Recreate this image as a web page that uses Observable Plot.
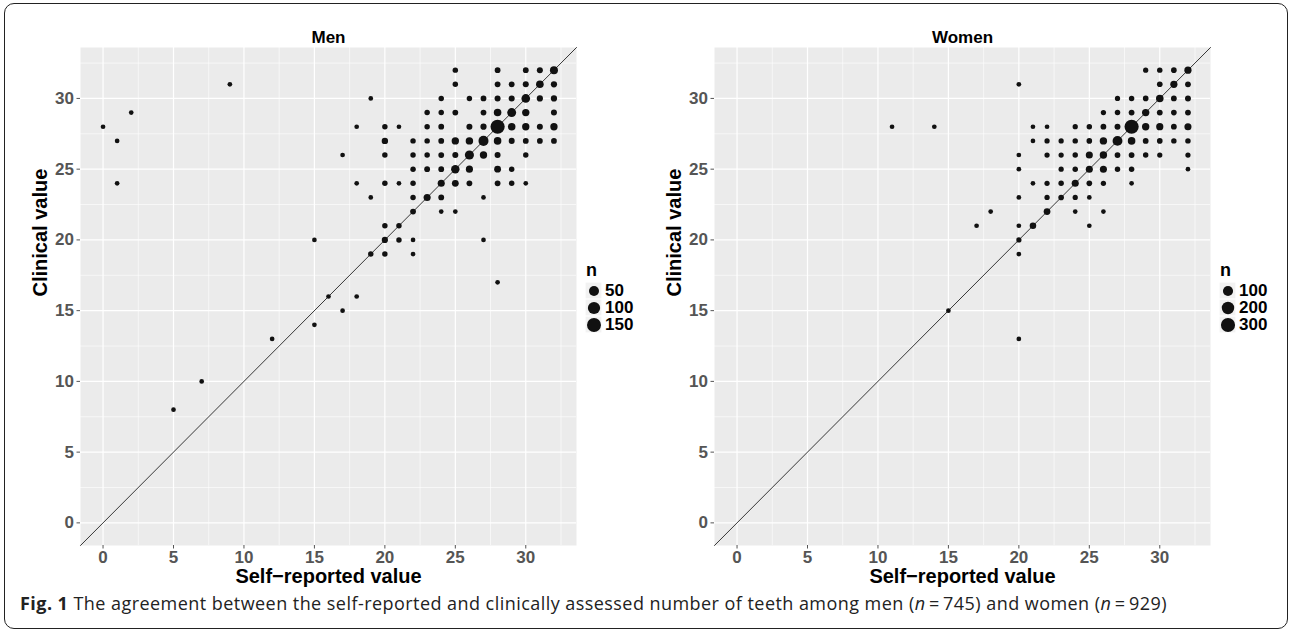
<!DOCTYPE html>
<html>
<head>
<meta charset="utf-8">
<script src="https://cdn.jsdelivr.net/npm/d3@7"></script>
<script src="https://cdn.jsdelivr.net/npm/@observablehq/plot@0.6"></script>
<style>
  html, body { margin: 0; padding: 0; background: #fff; }
  #page { position: relative; width: 1292px; height: 632px; overflow: hidden; font-family: "Liberation Sans", Arial, sans-serif; }
  #border { position: absolute; left: 4px; top: 3px; width: 1282px; height: 624px; border: 1.3px solid #222; border-radius: 10px; }
  .abs { position: absolute; }
  .legtitle { position: absolute; font-weight: bold; font-size: 18px; color: #000; line-height: 18px; }
  #caption { position: absolute; left: 20px; top: 591px; font-family: "Open Sans", sans-serif; font-size: 18px; letter-spacing: 0.45px; color: #222; white-space: nowrap; }
  #caption b { font-weight: 700; }
</style>
</head>
<body>
<div id="page">
  <div id="border"></div>
  <div id="men" class="abs" style="left:0px;top:0px"></div>
  <div id="women" class="abs" style="left:634px;top:0px"></div>
  <div class="legtitle" style="left:586px;top:261px">n</div>
  <div id="menLegend" class="abs" style="left:585px;top:281px"></div>
  <div class="legtitle" style="left:1220px;top:261px">n</div>
  <div id="womenLegend" class="abs" style="left:1219px;top:281px"></div>
  <div id="caption"><b>Fig. 1</b> The agreement between the self-reported and clinically assessed number of teeth among men (<i>n</i>&#8201;=&#8201;745) and women (<i>n</i>&#8201;=&#8201;929)</div>
</div>
<script>
// ---------- data ----------
const axisLimits = [-1.6, 33.6];
const majorTicks = [0, 5, 10, 15, 20, 25, 30];
const minorTicks = [2.5, 7.5, 12.5, 17.5, 22.5, 27.5, 32.5];
const panelTitles = ["Men", "Women"];
const xLabel = "Self\u2212reported value";
const yLabel = "Clinical value";

const menSelf = [
  25,28,30,31,32,
  9,25,28,29,30,31,32,
  19,24,26,27,28,29,30,31,32,
  2,23,24,25,27,28,29,30,32,
  0,18,20,21,23,24,26,27,28,29,30,31,32,
  1,20,22,23,24,25,26,27,28,29,30,31,32,
  17,20,22,23,24,25,26,27,28,30,
  22,23,24,25,26,28,29,
  1,18,20,21,22,24,25,26,28,29,30,
  19,22,23,24,27,
  22,24,25,
  20,21,
  15,20,21,22,27,
  19,20,22,
  28,
  16,18,
  17,
  15,
  12,
  7,
  5
];
const menClinical = [
  32,32,32,32,32,
  31,31,31,31,31,31,31,
  30,30,30,30,30,30,30,30,30,
  29,29,29,29,29,29,29,29,29,
  28,28,28,28,28,28,28,28,28,28,28,28,28,
  27,27,27,27,27,27,27,27,27,27,27,27,27,
  26,26,26,26,26,26,26,26,26,26,
  25,25,25,25,25,25,25,
  24,24,24,24,24,24,24,24,24,24,24,
  23,23,23,23,23,
  22,22,22,
  21,21,
  20,20,20,20,20,
  19,19,19,
  17,
  16,16,
  15,
  14,
  13,
  10,
  8
];
const menN = [
  2,3,3,4,20,
  1,2,3,3,4,16,5,
  1,2,2,3,4,4,28,5,5,
  1,2,2,3,3,15,32,13,4,
  1,1,2,1,2,3,4,5,158,15,13,4,13,
  1,6,2,2,3,13,14,50,15,4,3,3,3,
  1,2,2,2,3,4,35,13,4,2,
  2,3,3,25,11,9,2,
  1,1,2,1,2,11,9,3,3,2,1,
  1,2,11,3,1,
  3,1,1,
  2,2,
  1,5,2,1,1,
  2,2,1,
  1,
  1,1,
  1,
  1,
  1,
  1,
  1
];

const womenSelf = [
  29,30,31,32,
  20,30,31,32,
  27,28,29,30,31,32,
  26,27,28,29,30,31,32,
  11,14,21,22,24,25,26,27,28,29,30,31,32,
  21,22,23,24,25,26,27,28,29,30,31,32,
  20,22,23,24,25,26,27,28,29,30,32,
  20,23,24,25,26,27,28,32,
  21,22,23,24,25,26,28,
  20,22,23,24,25,
  18,22,24,26,
  17,20,21,25,
  20,
  20,
  15,
  20
];
const womenClinical = [
  32,32,32,32,
  31,31,31,31,
  30,30,30,30,30,30,
  29,29,29,29,29,29,29,
  28,28,28,28,28,28,28,28,28,28,28,28,28,
  27,27,27,27,27,27,27,27,27,27,27,27,
  26,26,26,26,26,26,26,26,26,26,26,
  25,25,25,25,25,25,25,25,
  24,24,24,24,24,24,24,
  23,23,23,23,23,
  22,22,22,22,
  21,21,21,21,
  20,
  19,
  15,
  13
];
const womenN = [
  2,3,4,22,
  1,4,22,5,
  2,3,4,28,5,6,
  2,3,5,25,5,4,5,
  1,1,1,1,2,3,5,6,302,25,22,5,20,
  1,2,2,3,4,25,91,28,5,4,3,3,
  1,2,2,3,20,25,5,5,3,2,2,
  1,2,3,20,20,3,3,1,
  1,2,3,20,4,2,1,
  1,2,4,2,1,
  1,15,1,1,
  1,1,12,1,
  2,
  1,
  1,
  1
];

const menLegendBreaks = [50, 100, 150];
const womenLegendBreaks = [100, 200, 300];

// ---------- drawing ----------
const FONT = "Liberation Sans, Arial, sans-serif";

function rScaleFor(counts) {
  // ggplot-like area scale: size grows with sqrt((n - min)/(max - min))
  return { type: "sqrt", domain: [0, d3.max(counts) - 1], range: [2.35, 7.1] };
}

function panel(title, xs, ys, ns) {
  const data = xs.map((x, i) => ({ self: x, clinical: ys[i], n: ns[i] }));
  const diag = axisLimits.map(v => ({ a: v, b: v }));
  return Plot.plot({
    width: 580,
    height: 590,
    marginLeft: 80,
    marginRight: 4,
    marginTop: 47,
    marginBottom: 45,
    x: { domain: axisLimits },
    y: { domain: axisLimits },
    r: rScaleFor(ns),
    style: { fontFamily: FONT, background: "transparent", overflow: "visible" },
    marks: [
      Plot.frame({ fill: "#EBEBEB", stroke: null }),
      Plot.gridX(minorTicks, { stroke: "#fff", strokeOpacity: 1, strokeWidth: 0.6 }),
      Plot.gridY(minorTicks, { stroke: "#fff", strokeOpacity: 1, strokeWidth: 0.6 }),
      Plot.gridX(majorTicks, { stroke: "#fff", strokeOpacity: 1, strokeWidth: 1.2 }),
      Plot.gridY(majorTicks, { stroke: "#fff", strokeOpacity: 1, strokeWidth: 1.2 }),
      Plot.axisX(majorTicks, { tickSize: 3.5, tickPadding: 1.5, fontSize: 17, fontWeight: "bold", color: "#555", label: null }),
      Plot.axisY(majorTicks, { tickSize: 3.5, tickPadding: 3, fontSize: 17, fontWeight: "bold", color: "#555", label: null }),
      Plot.line(diag, { x: "a", y: "b", stroke: "#222", strokeWidth: 0.9 }),
      Plot.dot(data, { x: "self", y: "clinical", r: d => d.n - 1, fill: "#111", stroke: null }),
      Plot.text([title], { frameAnchor: "top", dy: -5, lineAnchor: "bottom", fontWeight: "bold", fontSize: 17, fill: "#000" }),
      Plot.text([xLabel], { frameAnchor: "bottom", dy: 23, lineAnchor: "top", fontWeight: "bold", fontSize: 20, fill: "#000" }),
      Plot.text([yLabel], { frameAnchor: "left", dx: -40, rotate: -90, fontWeight: "bold", fontSize: 20, fill: "#000" })
    ]
  });
}

function legend(breaks, counts) {
  return Plot.plot({
    width: 66,
    height: 53,
    margin: 0,
    x: { type: "band", domain: ["key"], range: [0, 17.5], padding: 0, axis: null },
    y: { type: "band", domain: breaks, range: [0, 52.5], padding: 0, axis: null },
    r: rScaleFor(counts),
    style: { fontFamily: FONT, background: "transparent", overflow: "visible" },
    marks: [
      Plot.cell(breaks, { x: () => "key", y: d => d, fill: "#F2F2F2", inset: 0.6 }),
      Plot.dot(breaks, { x: () => "key", y: d => d, r: d => d - 1, fill: "#111", stroke: null }),
      Plot.text(breaks, { x: () => "key", y: d => d, text: d => String(d), dx: 11, textAnchor: "start", fontWeight: "bold", fontSize: 17, fill: "#000" })
    ]
  });
}

document.getElementById("men").appendChild(panel(panelTitles[0], menSelf, menClinical, menN));
document.getElementById("women").appendChild(panel(panelTitles[1], womenSelf, womenClinical, womenN));
document.getElementById("menLegend").appendChild(legend(menLegendBreaks, menN));
document.getElementById("womenLegend").appendChild(legend(womenLegendBreaks, womenN));
</script>
</body>
</html>
